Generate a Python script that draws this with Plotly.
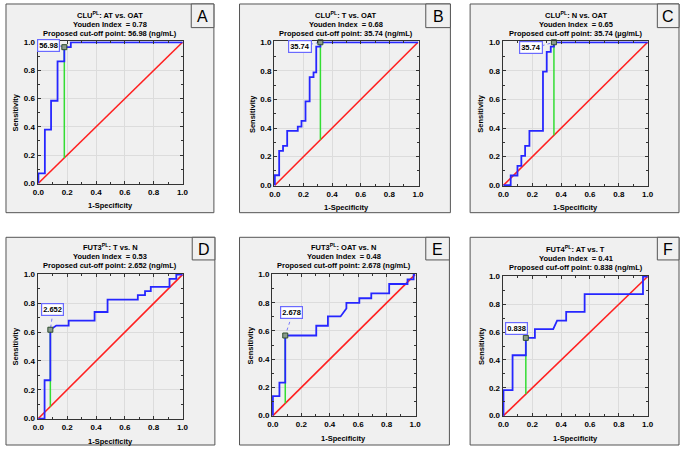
import plotly.graph_objects as go

W, H = 685, 450

# ---------------- data ----------------
panel_ids = ["A", "B", "C", "D", "E", "F"]

title_markers = ["CLU<sup>PL</sup>: AT vs. OAT", "CLU<sup>PL</sup>: T vs. OAT", "CLU<sup>PL</sup>: N vs. OAT",
                 "FUT3<sup>PL</sup>: T vs. N", "FUT3<sup>PL</sup>: OAT vs. N", "FUT4<sup>PL</sup>: AT vs. T"]
youden_values = [0.78, 0.68, 0.65, 0.53, 0.48, 0.41]
cutoff_labels = ["56.98", "35.74", "35.74", "2.652", "2.678", "0.838"]
cutoff_units = ["ng/mL", "ng/mL", "µg/mL", "ng/mL", "ng/mL", "ng/mL"]
cutoff_prefix = ["Proposed cut-off point", "Proposed cut-off point", "Proposed cut-off point",
                 "Proposed cut-off point", "Proposed cut-off point", "Proposed cuf-off point"]

A_fpr = [0, 0, 0.045, 0.045, 0.088, 0.088, 0.133, 0.133, 0.18, 0.18, 0.225, 0.225, 1.0]
A_tpr = [0, 0.07, 0.07, 0.38, 0.38, 0.585, 0.585, 0.865, 0.865, 0.965, 0.965, 1.0, 1.0]

B_fpr = [0, 0, 0.03, 0.03, 0.057, 0.057, 0.086, 0.086, 0.16, 0.16, 0.186, 0.186, 0.214, 0.214,
         0.243, 0.243, 0.27, 0.27, 0.289, 0.289, 0.318, 0.318, 1.0]
B_tpr = [0, 0.07, 0.07, 0.24, 0.24, 0.275, 0.275, 0.38, 0.38, 0.41, 0.41, 0.45, 0.45, 0.587,
         0.587, 0.756, 0.756, 0.79, 0.79, 0.97, 0.97, 1.0, 1.0]

C_fpr = [0, 0.05, 0.05, 0.097, 0.097, 0.124, 0.124, 0.15, 0.15, 0.18, 0.18, 0.274, 0.274,
         0.30, 0.30, 0.328, 0.328, 0.35, 0.35, 1.0]
C_tpr = [0, 0, 0.068, 0.068, 0.136, 0.136, 0.206, 0.206, 0.276, 0.276, 0.38, 0.38, 0.794,
         0.794, 0.932, 0.932, 0.97, 0.97, 1.0, 1.0]

D_fpr = [0, 0.043, 0.043, 0.083, 0.083, 0.124, 0.21, 0.21, 0.39, 0.39, 0.48, 0.48, 0.69, 0.69,
         0.74, 0.74, 0.78, 0.78, 0.91, 0.91, 0.957, 0.957, 1.0]
D_tpr = [0, 0, 0.266, 0.266, 0.617, 0.646, 0.646, 0.68, 0.68, 0.74, 0.74, 0.826, 0.826, 0.857,
         0.857, 0.885, 0.885, 0.915, 0.915, 0.97, 0.97, 1.0, 1.0]

E_fpr = [0, 0, 0.046, 0.046, 0.087, 0.087, 0.305, 0.305, 0.387, 0.387, 0.476, 0.517, 0.517,
         0.608, 0.608, 0.692, 0.692, 0.818, 0.818, 0.947, 0.947, 0.99, 0.99, 1.0]
E_tpr = [0, 0.138, 0.138, 0.234, 0.234, 0.568, 0.568, 0.637, 0.637, 0.703, 0.703, 0.759, 0.8,
         0.8, 0.832, 0.832, 0.867, 0.867, 0.933, 0.933, 0.966, 0.966, 1.0, 1.0]

F_fpr = [0, 0, 0.063, 0.063, 0.155, 0.155, 0.218, 0.218, 0.345, 0.372, 0.435, 0.435, 0.563,
         0.563, 0.968, 0.968, 1.0]
F_tpr = [0, 0.183, 0.183, 0.434, 0.434, 0.559, 0.559, 0.622, 0.622, 0.683, 0.683, 0.746, 0.746,
         0.874, 0.874, 1.0, 1.0]

fpr_list = [A_fpr, B_fpr, C_fpr, D_fpr, E_fpr, F_fpr]
tpr_list = [A_tpr, B_tpr, C_tpr, D_tpr, E_tpr, F_tpr]

cut_fpr = [0.18, 0.318, 0.35, 0.083, 0.087, 0.155]
cut_tpr = [0.965, 1.0, 1.0, 0.617, 0.568, 0.559]

tick_vals = [0.0, 0.2, 0.4, 0.6, 0.8, 1.0]
tick_text = ["0.0", "0.2", "0.4", "0.6", "0.8", "1.0"]

# ---------------- layout geometry (pixels) ----------------
outer_boxes = [(1, 1, 212, 213), (238, 1, 452, 213), (472, 1, 684, 213),
               (1, 238, 213, 449), (238, 238, 451, 449), (472, 238, 684, 449)]
letter_boxes = [(189, 1, 212, 25), (427, 1, 452, 25), (662, 1, 684, 25),
                (190, 238, 213, 261), (427, 238, 451, 261), (662, 238, 684, 261)]
plot_boxes = [(33, 39, 181, 184), (273, 39, 420, 186), (505, 39, 653, 186),
              (33, 275, 181, 423), (271, 275, 417, 420), (505, 277, 653, 420)]
# label box centres and leader start, in data units
label_pos = [(0.073, 0.979), (0.174, 0.972), (0.19, 0.96), (0.10, 0.76), (0.132, 0.73), (0.087, 0.623)]
leader_start = [(0.146, 0.975), (0.245, 0.985), (0.265, 0.975), (0.10, 0.735), (0.132, 0.705), (0.125, 0.595)]

FONT = "Liberation Sans, Arial, sans-serif"
TXT = 7.5
TICK = 8
PAD = 0.006

def px(x):
    return x / W

def py(y):
    return 1 - y / H

fig = go.Figure()
shapes = []
annotations = []
layout_axes = {}

for i in range(6):
    n = "" if i == 0 else str(i + 1)
    xa, ya = "x" + n, "y" + n
    x0, y0, x1, y1 = plot_boxes[i]
    common = dict(range=[-PAD, 1 + PAD], tickvals=tick_vals, ticktext=tick_text,
                  tickfont=dict(family=FONT, size=TICK, color="black", weight="bold"),
                  showgrid=True, gridcolor="#dcdcdc", gridwidth=1, zeroline=False,
                  showline=True, linecolor="#333333", linewidth=1, mirror="allticks",
                  ticks="inside", ticklen=3, tickcolor="#333333",
                  minor=dict(ticks="inside", ticklen=2, dtick=0.1, tickcolor="#333333", showgrid=False),
                  fixedrange=True)
    layout_axes["xaxis" + n] = dict(domain=[px(x0), px(x1)], anchor=ya, **common)
    layout_axes["yaxis" + n] = dict(domain=[py(y1), py(y0)], anchor=xa, **common)

    # panel background & border
    ox0, oy0, ox1, oy1 = outer_boxes[i]
    shapes.append(dict(type="rect", xref="paper", yref="paper", x0=px(ox0), x1=px(ox1), y0=py(oy1), y1=py(oy0),
                       fillcolor="#f0f0f0", line=dict(color="#555555", width=1), layer="below"))
    lx0, ly0, lx1, ly1 = letter_boxes[i]
    shapes.append(dict(type="rect", xref="paper", yref="paper", x0=px(lx0), x1=px(lx1), y0=py(ly1), y1=py(ly0),
                       fillcolor="#f0f0f0", line=dict(color="#555555", width=1), layer="below"))
    annotations.append(dict(xref="paper", yref="paper", x=px((lx0 + lx1) / 2), y=py((ly0 + ly1) / 2 + 1),
                            text=panel_ids[i], showarrow=False, xanchor="center", yanchor="middle",
                            font=dict(family=FONT, size=16, color="black")))

    # titles
    cx = (x0 + x1) / 2
    lines = [title_markers[i], "Youden Index  = %.2f" % youden_values[i],
             "%s: %s (%s)" % (cutoff_prefix[i], cutoff_labels[i], cutoff_units[i])]
    for k, dy in enumerate([-27, -17.5, -8]):
        annotations.append(dict(xref="paper", yref="paper", x=px(cx), y=py(y0 + dy), text="<b>%s</b>" % lines[k],
                                showarrow=False, xanchor="center", yanchor="middle",
                                font=dict(family=FONT, size=TXT, color="black")))
    annotations.append(dict(xref="paper", yref="paper", x=px(cx), y=py(y1 + 22), text="<b>1-Specificity</b>",
                            showarrow=False, xanchor="center", yanchor="middle",
                            font=dict(family=FONT, size=TXT, color="black")))
    annotations.append(dict(xref="paper", yref="paper", x=px(x0 - 22), y=py((y0 + y1) / 2), text="<b>Sensitivity</b>",
                            showarrow=False, xanchor="center", yanchor="middle", textangle=-90,
                            font=dict(family=FONT, size=TXT, color="black")))

    # reference diagonal
    fig.add_trace(go.Scatter(x=[0, 1], y=[0, 1], mode="lines", line=dict(color="#ff2020", width=1.6),
                             xaxis=xa, yaxis=ya, showlegend=False, hoverinfo="skip"))
    # Youden line
    fig.add_trace(go.Scatter(x=[cut_fpr[i], cut_fpr[i]], y=[cut_fpr[i], cut_tpr[i]], mode="lines",
                             line=dict(color="#33dd33", width=1.5), xaxis=xa, yaxis=ya,
                             showlegend=False, hoverinfo="skip"))
    # ROC curve
    fig.add_trace(go.Scatter(x=fpr_list[i], y=tpr_list[i], mode="lines", line=dict(color="#2626ff", width=1.8),
                             xaxis=xa, yaxis=ya, showlegend=False, hoverinfo="skip"))
    # leader line
    fig.add_trace(go.Scatter(x=[leader_start[i][0], cut_fpr[i]], y=[leader_start[i][1], cut_tpr[i]], mode="lines",
                             line=dict(color="#5a5aff", width=0.8, dash="dot"), xaxis=xa, yaxis=ya,
                             showlegend=False, hoverinfo="skip"))
    # cut-off marker
    fig.add_trace(go.Scatter(x=[cut_fpr[i]], y=[cut_tpr[i]], mode="markers",
                             marker=dict(symbol="square", size=5, color="#8c9c8c", line=dict(color="#2f4f2f", width=1)),
                             xaxis=xa, yaxis=ya, showlegend=False, hoverinfo="skip", cliponaxis=False))
    # cut-off label
    annotations.append(dict(xref=xa, yref=ya, x=label_pos[i][0], y=label_pos[i][1],
                            text="<b>%s</b>" % cutoff_labels[i], showarrow=False,
                            xanchor="center", yanchor="middle", bgcolor="white",
                            bordercolor="#6a6aff", borderwidth=1.2, borderpad=1,
                            font=dict(family=FONT, size=TXT, color="black")))

fig.update_layout(
    width=W, height=H, autosize=False,
    margin=dict(l=0, r=0, t=0, b=0),
    paper_bgcolor="white", plot_bgcolor="white",
    shapes=shapes, annotations=annotations, showlegend=False,
    **layout_axes)

fig.write_html("out.html", config={"displayModeBar": False},
               post_script="document.body.style.margin='0';document.body.style.padding='0';"
                           "document.body.style.overflow='hidden';")
